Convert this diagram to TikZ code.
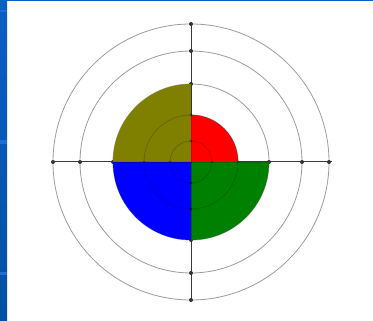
\documentclass[tikz,border=0pt]{standalone}
\usetikzlibrary{calc}
\definecolor{slideblue}{HTML}{0A5FC4}
\definecolor{slideblueb}{HTML}{0050A4}
\definecolor{slidebluelight}{HTML}{1C6ED2}
\definecolor{ringgray}{HTML}{9C9C9C}
\definecolor{axisgray}{HTML}{3A3A3A}
\definecolor{olivefill}{HTML}{808000}
\definecolor{redfill}{HTML}{FF0000}
\definecolor{greenfill}{HTML}{008000}
\definecolor{bluefill}{HTML}{0000FF}
\tikzset{
  ring/.style={draw=ringgray, line width=0.8pt},
  faintring/.style={draw=black, draw opacity=0.18, line width=0.8pt},
  axisline/.style={draw=axisgray, line width=1pt},
  tickdot/.style={fill=black!80},
}
\begin{document}
\begin{tikzpicture}[x=1pt,y=-1pt]
\useasboundingbox (0,0) rectangle (373,321);
\fill[white] (0,0) rectangle (373,321);
% slide frame
\shade[top color=slideblue, bottom color=slideblueb] (0,0) rectangle (7,321);
\fill[slidebluelight] (0,10) rectangle (7,12);
\fill[slidebluelight] (0,140) rectangle (7,144);
\fill[slidebluelight] (0,272) rectangle (7,275);
\fill[slideblue] (0,0) rectangle (373,1.5);
% centre and axis ends
\coordinate (O) at (191,162);
\coordinate (L) at (55,162);
\coordinate (R) at (332,162);
\coordinate (T) at (191,23);
\coordinate (B) at (191,300);
% rings
\foreach \r in {21,47,78,111,138} {
  \draw[ring] (O) circle[radius=\r pt];
}
% axes
\draw[axisline] (L) -- (R);
\draw[axisline] (T) -- (B);
% tick dots
\foreach \r in {78,111,138} {
  \fill[tickdot] ($(O)+(\r pt,0pt)$) circle[radius=2pt];
  \fill[tickdot] ($(O)+(-\r pt,0pt)$) circle[radius=2pt];
  \fill[tickdot] ($(O)+(0pt,\r pt)$) circle[radius=2pt];
  \fill[tickdot] ($(O)+(0pt,-\r pt)$) circle[radius=2pt];
}
% coloured sectors
\fill[olivefill] (O) -- ++(-78pt,0pt) arc[start angle=180, end angle=90, radius=78pt] -- cycle;
\fill[redfill] (O) -- ++(47pt,0pt) arc[start angle=0, end angle=90, radius=47pt] -- cycle;
\fill[greenfill] (O) -- ++(78pt,0pt) arc[start angle=0, end angle=-90, radius=78pt] -- cycle;
\fill[bluefill] (O) -- ++(-78pt,0pt) arc[start angle=180, end angle=270, radius=78pt] -- cycle;
% faint rings showing through the colours
\begin{scope}
  \clip (O) circle[radius=78pt];
  \foreach \r in {21,47} {
    \draw[faintring] (O) circle[radius=\r pt];
  }
  \draw[faintring] (L) -- (R);
  \draw[faintring] (T) -- (B);
\end{scope}
\foreach \r in {21,47} {
  \fill[black, opacity=0.35] ($(O)+(\r pt,0pt)$) circle[radius=1.6pt];
  \fill[black, opacity=0.35] ($(O)+(-\r pt,0pt)$) circle[radius=1.6pt];
  \fill[black, opacity=0.35] ($(O)+(0pt,\r pt)$) circle[radius=1.6pt];
  \fill[black, opacity=0.35] ($(O)+(0pt,-\r pt)$) circle[radius=1.6pt];
}
\end{tikzpicture}
\end{document}
